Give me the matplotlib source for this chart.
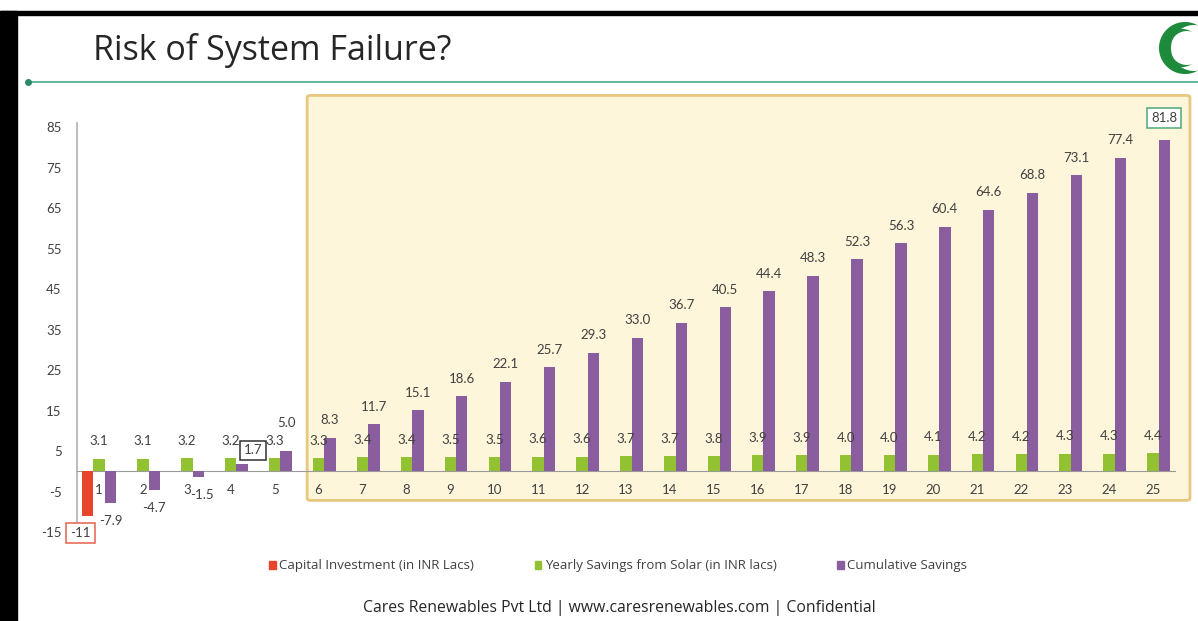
import numpy as np
import matplotlib
matplotlib.use('Agg')
import matplotlib.pyplot as plt
from matplotlib.patches import Rectangle, FancyBboxPatch, Patch, Polygon
from matplotlib.lines import Line2D

plt.rcParams['font.family'] = ['Lato', 'DejaVu Sans']
plt.rcParams['axes.unicode_minus'] = False

years = list(range(1, 26))
capital = [-11, 0, 0, 0, 0, 0, 0, 0, 0, 0, 0, 0, 0, 0, 0, 0, 0, 0, 0, 0, 0, 0, 0, 0, 0]
yearly = [3.1, 3.1, 3.2, 3.2, 3.3, 3.3, 3.4, 3.4, 3.5, 3.5, 3.6, 3.6, 3.7,
          3.7, 3.8, 3.9, 3.9, 4.0, 4.0, 4.1, 4.2, 4.2, 4.3, 4.3, 4.4]
cumulative = [-7.9, -4.7, -1.5, 1.7, 5.0, 8.3, 11.7, 15.1, 18.6, 22.1, 25.7,
              29.3, 33.0, 36.7, 40.5, 44.4, 48.3, 52.3, 56.3, 60.4, 64.6,
              68.8, 73.1, 77.4, 81.8]
series_names = ['Capital Investment (in INR Lacs)',
                'Yearly Savings from Solar (in INR lacs)',
                'Cumulative Savings']

RED = '#E6452C'
GREEN = '#92C132'
PURPLE = '#8A5E9E'
TXT = '#404040'

fig = plt.figure(figsize=(11.98, 6.21), dpi=100)
ax = fig.add_axes([0.0643, 0.1433, 0.9165, 0.6587])

x = np.array(years)
w = 0.26
ax.bar(x - w, capital, w, color=RED, zorder=3)
ax.bar(x, yearly, w, color=GREEN, zorder=3)
ax.bar(x + w, cumulative, w, color=PURPLE, zorder=3)

ax.set_xlim(0.5, 25.5)
ax.set_ylim(-15, 86)
ax.set_yticks(np.arange(-15, 86, 10))
ax.set_xticks(x)
ax.set_xticklabels([str(v) for v in years])
ax.tick_params(axis='both', length=0, labelsize=9.5, labelcolor=TXT)
ax.tick_params(axis='y', pad=11)
ax.tick_params(axis='x', pad=9)

for s in ['top', 'right']:
    ax.spines[s].set_visible(False)
ax.spines['bottom'].set_position(('data', 0))
ax.spines['bottom'].set_color('#9A9A9A')
ax.spines['left'].set_color('#B0B0B0')
ax.spines['left'].set_linewidth(1.2)
ax.patch.set_alpha(0)

# highlighted years 6-25
box = FancyBboxPatch((5.74, -7.2), 20.1, 100,
                     boxstyle='round,pad=0,rounding_size=0.1',
                     facecolor='#FEF6DA', edgecolor='#E8C77F', lw=2,
                     clip_on=False, zorder=1, mutation_aspect=4)
ax.add_patch(box)


def label(xv, yv, text, dx=0, dy=None, box_color=None):
    if dy is None:
        dy = 12.5 if yv >= 0 else -12.5
    kw = {}
    if box_color:
        kw['bbox'] = dict(boxstyle='square,pad=0.3', fc='white',
                          ec=box_color, lw=1.1)
    ax.annotate(text, (xv, yv), xytext=(dx, dy), textcoords='offset points',
                ha='center', va='center', fontsize=9.5, color=TXT,
                zorder=6, **kw)


label(1 - w, capital[0], '%d' % capital[0], dx=-5, box_color='#E5604A')
for i, v in enumerate(yearly):
    label(x[i], v, '%.1f' % v)
for i, v in enumerate(cumulative):
    if i == 2:
        label(x[i] + w, v, '%.1f' % v, dx=3)
    elif i == 3:
        label(x[i] + w, v, '%.1f' % v, dx=8, dy=10, box_color='#303030')
    elif i == 4:
        label(x[i] + w, v, '%.1f' % v, dy=20)
    elif i == 24:
        label(x[i] + w, v, '%.1f' % v, dy=16, box_color='#4FA878')
    else:
        label(x[i] + w, v, '%.1f' % v)

# slide frame
fig.patches.append(Rectangle((0, 1 - 15 / 621), 1, 4 / 621,
                             transform=fig.transFigure, color='black'))
fig.patches.append(Rectangle((0, 0), 17 / 1198, 1 - 11 / 621,
                             transform=fig.transFigure, color='black'))

fig.text(93 / 1198, 1 - 51 / 621, 'Risk of System Failure?', fontsize=24.5,
         family='Open Sans', color='#262626', va='center', ha='left')
fig.add_artist(Line2D([28 / 1198, 1], [1 - 82 / 621] * 2, color='#4FA88A',
                      lw=1.2))
fig.add_artist(Line2D([28 / 1198], [1 - 82 / 621], marker='o', ms=4,
                      color='#2E8A6A'))

# logo: two crescents
t = np.linspace(np.pi * 0.35, np.pi * 1.65, 60)
def crescent(cx, cy, r_out, r_in, shift):
    outer = np.c_[cx + r_out * np.cos(t), cy + r_out * np.sin(t)]
    inner = np.c_[cx + shift + r_in * np.cos(t[::-1]), cy + r_in * np.sin(t[::-1])]
    pts = np.vstack([outer, inner])
    pts[:, 0] /= 1198
    pts[:, 1] = 1 - pts[:, 1] / 621
    return Polygon(pts, closed=True, transform=fig.transFigure,
                   color='#1D8A3C', lw=0)
fig.patches.append(crescent(1185, 48, 26, 23, 9))
fig.patches.append(crescent(1182, 48, 19, 17, 5))

handles = [Patch(color=c) for c in (RED, GREEN, PURPLE)]
fig.legend(handles, series_names, loc='center', ncol=3, frameon=False,
           bbox_to_anchor=(0.516, 1 - 566 / 621),
           prop={'family': 'Open Sans', 'size': 9.5},
           handlelength=0.5, handleheight=0.5, handletextpad=0.25,
           columnspacing=4.6, labelcolor=TXT)

fig.text(0.517, 1 - 608 / 621,
         'Cares Renewables Pvt Ltd | www.caresrenewables.com | Confidential',
         ha='center', va='center', fontsize=11.3, family='Open Sans',
         color='#262626')

fig.savefig('out.png', dpi=100)
